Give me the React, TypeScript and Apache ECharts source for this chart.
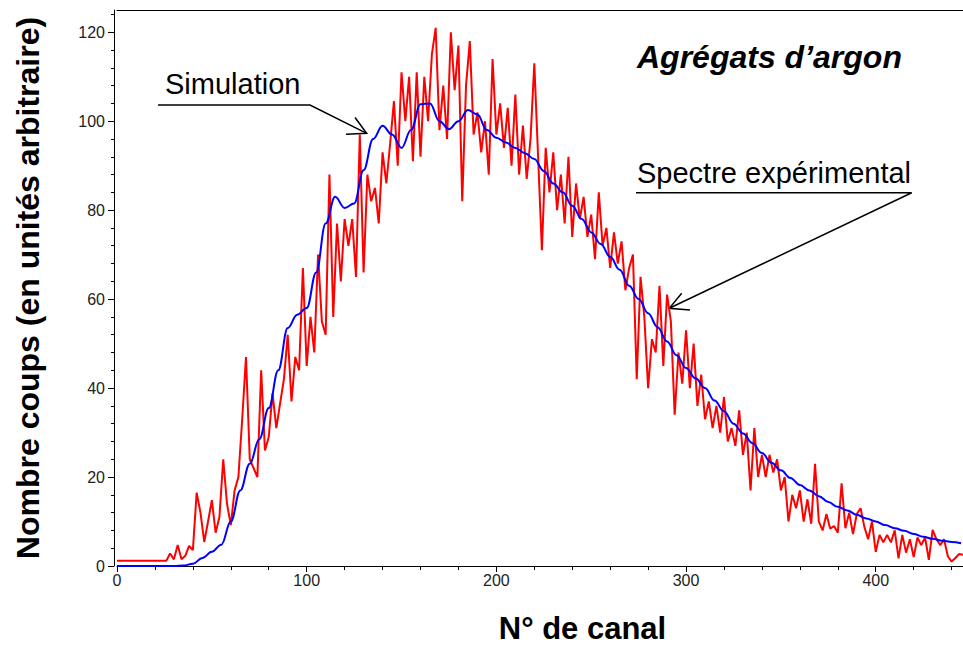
import React, { useEffect, useRef } from "react";
import * as echarts from "echarts";

// Experimental spectrum (red): one value every 2 channels, starting at channel 0
const RED_STEP = 2;
const redValues = [
  1.2, 1.2, 1.2, 1.2, 1.2, 1.2, 1.2, 1.2, 1.2, 1.2, 1.2, 1.2, 1.2,
  1.2, 2.8, 1.5, 4.7, 1.5, 2.3, 4.5, 3.6, 16.5, 12, 5.4, 10, 14.8, 7.5, 11, 24,
  14, 9.2, 17, 20, 33, 47, 24, 22, 20, 44, 26, 29, 38.8, 31, 36.6, 42, 52, 37,
  47, 44, 67, 45, 56, 48, 70, 55, 52, 88, 56, 77, 64, 78, 72, 78, 65, 97, 66,
  88, 82, 85, 77, 93, 86, 95, 104.5, 90, 111, 100, 110, 91, 111, 92, 110, 100,
  115, 121, 98, 108, 96, 120, 107, 117, 82, 108, 118, 97, 102, 93, 100, 88, 114,
  97, 104, 94, 103, 90, 106, 88, 99, 87, 96, 113, 92, 71, 94, 84, 93, 80, 88,
  77, 92, 74, 86, 78, 83, 74, 79, 69, 84, 72, 76, 67, 75, 68, 73, 62, 67, 70,
  42, 65, 56, 40, 51, 48, 63, 45, 61, 55, 34, 48, 41, 53, 40, 50, 36, 43, 33,
  37, 31, 36, 30, 38, 28, 31, 27, 35, 25, 30, 17, 31, 20, 25, 20, 25, 21, 24,
  17, 20, 10, 16, 13, 17, 10, 15, 9.5, 23, 10, 8, 11.7, 8.4, 9, 7.5, 18.6, 8.5,
  12, 7.2, 11.7, 13, 8.8, 6, 10, 3.2, 7, 5.3, 7, 5.3, 8, 1.7, 7, 3, 6, 2, 6.4,
  4.7, 6.4, 1.4, 8.1, 6, 4.7, 6, 2.2, 1, 1.8, 2.7, 2.5,
];

// Simulation (blue): one value every 5 channels, starting at channel 0
const BLUE_STEP = 5;
const blueValues = [
  0, 0, 0, 0, 0, 0, 0, 0.1, 0.5, 1.8, 3.2, 4.8, 10, 17, 23, 28.5, 35.5, 44,
  53.5, 56.5, 58, 66, 77, 83, 80.5, 81.5, 89, 96, 99, 97, 94, 98, 103.8, 104,
  100, 98.2, 100, 102.5, 101.5, 98, 96.3, 95.2, 94, 92.8, 91.5, 88.8, 86, 84,
  81, 78, 75, 72.4, 69.5, 66.6, 63, 60, 56.8, 53.7, 50.5, 47.4, 44.5, 42.2, 40,
  37.2, 34.8, 32, 29.8, 27.6, 25.4, 23.2, 21.5, 19.8, 18.2, 17, 15.7, 14.4,
  13.3, 12.5, 11.5, 10.7, 10, 9.2, 8.5, 7.9, 7.2, 6.6, 6.1, 5.7, 5.4, 5.1,
];

const xTicks = [0, 100, 200, 300, 400];
const yTicks = [0, 20, 40, 60, 80, 100, 120];

const TITLE = "Agrégats d’argon";
const X_NAME = "N° de canal";
const Y_NAME = "Nombre coups (en unités arbitraire)";
const SIM_LABEL = "Simulation";
const EXP_LABEL = "Spectre expérimental";

const FONT = "'Liberation Sans', Arial, sans-serif";

export default function App() {
  const ref = useRef<HTMLDivElement>(null);

  useEffect(() => {
    if (!ref.current) return;
    const chart = echarts.init(ref.current, null, { renderer: "svg" });

    const redData = redValues.map((v, i) => [i * RED_STEP, v]);
    const blueData = blueValues.map((v, i) => [i * BLUE_STEP, v]);

    const axisBlack = { color: "#000", width: 1 };

    chart.setOption({
      animation: false,
      backgroundColor: "#fff",
      grid: { left: 117, right: 0, top: 10, bottom: 80, containLabel: false },
      xAxis: [
        {
          type: "value",
          min: 0,
          max: 446,
          interval: 100,
          position: "bottom",
          axisLine: { show: true, onZero: false, lineStyle: axisBlack },
          axisTick: { show: true, length: 6, lineStyle: axisBlack, customValues: xTicks },
          minorTick: { show: true, splitNumber: 5, length: 4, lineStyle: axisBlack },
          splitLine: { show: false },
          axisLabel: {
            customValues: xTicks,
            fontFamily: FONT,
            fontSize: 16,
            color: "#222",
            margin: 6,
          },
        },
        {
          type: "value",
          min: 0,
          max: 446,
          position: "top",
          axisLine: { show: true, onZero: false, lineStyle: axisBlack },
          axisTick: { show: false },
          axisLabel: { show: false },
          splitLine: { show: false },
        },
      ],
      yAxis: {
        type: "value",
        min: 0,
        max: 125,
        interval: 20,
        offset: 3,
        axisLine: { show: true, onZero: false, lineStyle: axisBlack },
        axisTick: { show: true, length: 6, lineStyle: axisBlack, customValues: yTicks },
        minorTick: { show: true, splitNumber: 5, length: 3, lineStyle: axisBlack },
        splitLine: { show: false },
        axisLabel: {
          customValues: yTicks,
          fontFamily: FONT,
          fontSize: 16,
          color: "#222",
          margin: 9,
        },
        name: Y_NAME,
        nameLocation: "middle",
        nameGap: 70,
        nameTextStyle: {
          fontFamily: FONT,
          fontSize: 32,
          fontWeight: "bold",
          color: "#000",
        },
      },
      series: [
        {
          name: "exp",
          type: "line",
          xAxisIndex: 0,
          data: redData,
          showSymbol: false,
          lineStyle: { color: "#ff0000", width: 2 },
          itemStyle: { color: "#ff0000" },
          z: 2,
        },
        {
          name: "sim",
          type: "line",
          xAxisIndex: 0,
          data: blueData,
          showSymbol: false,
          smooth: 0.4,
          smoothMonotone: "x",
          lineStyle: { color: "#0000ff", width: 2 },
          itemStyle: { color: "#0000ff" },
          z: 3,
        },
      ],
      graphic: [
        {
          type: "text",
          x: 637,
          y: 57,
          style: {
            text: TITLE,
            font: `italic bold 32px ${FONT}`,
            fill: "#000",
            verticalAlign: "middle",
          },
        },
        {
          type: "text",
          x: 165,
          y: 84,
          style: {
            text: SIM_LABEL,
            font: `29px ${FONT}`,
            fill: "#000",
            verticalAlign: "middle",
          },
        },
        {
          type: "polyline",
          shape: { points: [[158, 105], [310, 105], [366.7, 133.3]] },
          style: { stroke: "#000", lineWidth: 1.5, fill: "none" },
        },
        {
          type: "polyline",
          shape: { points: [[355, 117.5], [366.7, 133.3], [346, 134.3]] },
          style: { stroke: "#000", lineWidth: 1.5, fill: "none" },
        },
        {
          type: "text",
          x: 637,
          y: 172.5,
          style: {
            text: EXP_LABEL,
            font: `29px ${FONT}`,
            fill: "#000",
            verticalAlign: "middle",
          },
        },
        {
          type: "polyline",
          shape: { points: [[636, 192.7], [911.7, 192.7], [669.3, 308.3]] },
          style: { stroke: "#000", lineWidth: 1.5, fill: "none" },
        },
        {
          type: "polyline",
          shape: { points: [[681.7, 293.3], [669.3, 308.3], [690, 310]] },
          style: { stroke: "#000", lineWidth: 1.5, fill: "none" },
        },
        {
          type: "text",
          x: 582.5,
          y: 628,
          style: {
            text: X_NAME,
            font: `bold 31px ${FONT}`,
            fill: "#000",
            align: "center",
            verticalAlign: "middle",
          },
        },
      ],
    });

    return () => {
      chart.dispose();
    };
  }, []);

  return (
    <div
      ref={ref}
      style={{ position: "absolute", left: 0, top: 0, width: 963, height: 646 }}
    />
  );
}
